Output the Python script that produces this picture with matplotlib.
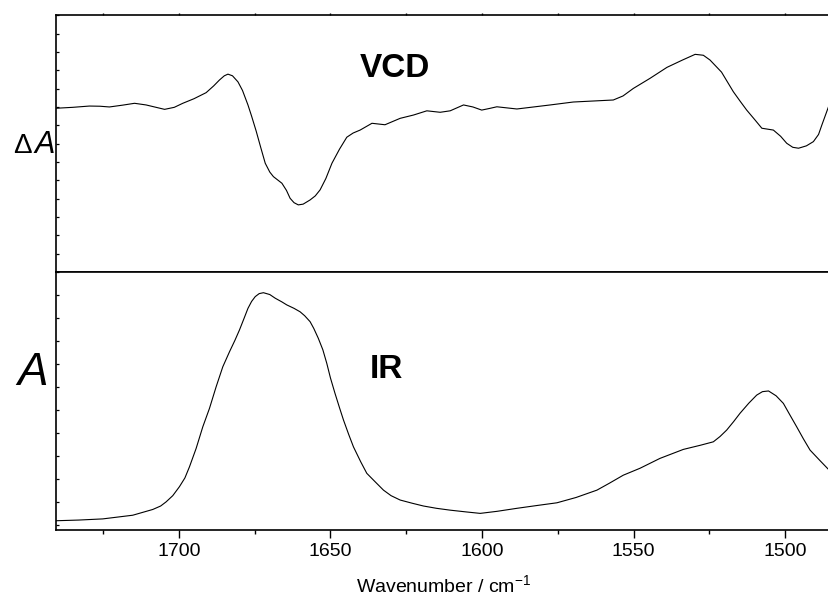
import matplotlib
matplotlib.use("Agg")
import matplotlib.pyplot as plt
from matplotlib.ticker import MultipleLocator

plt.rcParams['font.family'] = ['Liberation Sans', 'DejaVu Sans']
plt.rcParams['mathtext.fontset'] = 'custom'
plt.rcParams['mathtext.rm'] = 'Liberation Sans'
plt.rcParams['mathtext.it'] = 'Liberation Sans:italic'

# VCD spectrum (arbitrary units)
vcd_wn = [1740.5, 1735.0, 1729.5, 1726.0, 1722.9, 1718.5, 1714.6, 1710.8, 1707.5,
          1704.7, 1701.5, 1698.7, 1695.0, 1691.0, 1688.5, 1686.6, 1685.0, 1683.8,
          1682.3, 1680.5, 1679.0, 1677.2, 1676.0, 1674.5, 1673.0, 1671.5, 1670.0,
          1668.8, 1666.0, 1664.5, 1663.3, 1662.0, 1660.6, 1659.0, 1656.7, 1655.0,
          1653.4, 1651.5, 1649.5, 1647.0, 1644.6, 1642.5, 1640.2, 1636.3, 1632.0,
          1627.0, 1622.6, 1618.2, 1613.8, 1610.5, 1606.1, 1603.0, 1600.1, 1597.5,
          1595.1, 1588.5, 1577.5, 1569.9, 1556.7, 1553.5, 1550.1, 1544.6, 1539.0,
          1534.0, 1529.7, 1527.0, 1524.8, 1521.0, 1517.1, 1514.8, 1512.7, 1510.0,
          1507.7, 1503.9, 1501.5, 1499.5, 1497.5, 1495.6, 1493.0, 1490.7, 1489.0,
          1487.9, 1485.5]
vcd_val = [1.93, 1.98, 2.05, 2.04, 2.00, 2.10, 2.20, 2.11, 1.98,
           1.87, 1.98, 2.20, 2.45, 2.78, 3.15, 3.47, 3.70, 3.79,
           3.70, 3.37, 2.90, 2.11, 1.50, 0.69, -0.20, -1.07, -1.55,
           -1.80, -2.16, -2.55, -2.98, -3.22, -3.34, -3.30, -3.07, -2.85,
           -2.52, -1.90, -1.07, -0.30, 0.35, 0.58, 0.74, 1.11, 1.03,
           1.38, 1.56, 1.79, 1.71, 1.79, 2.11, 2.00, 1.83, 1.92,
           2.01, 1.89, 2.11, 2.27, 2.38, 2.60, 3.01, 3.56, 4.16,
           4.55, 4.87, 4.82, 4.56, 3.90, 2.83, 2.30, 1.83, 1.30,
           0.84, 0.74, 0.40, 0.02, -0.20, -0.25, -0.12, 0.11, 0.50,
           1.02, 2.11]

# IR absorbance (arbitrary units)
ir_wn = [1740.5, 1733.0, 1725.1, 1715.2, 1708.6, 1706.0, 1704.2, 1702.0, 1699.8,
         1698.0, 1696.5, 1694.3, 1692.1, 1689.9, 1687.7, 1685.5, 1683.3, 1681.5,
         1680.0, 1678.5, 1677.2, 1676.0, 1674.8, 1673.5, 1672.1, 1670.0, 1668.2,
         1666.0, 1664.4, 1662.0, 1660.0, 1658.5, 1656.7, 1655.5, 1654.0, 1652.5,
         1651.2, 1650.0, 1648.5, 1647.0, 1645.7, 1644.0, 1642.4, 1640.0, 1638.0,
         1635.0, 1632.5, 1630.0, 1627.0, 1623.0, 1619.3, 1615.0, 1610.5, 1605.0,
         1600.6, 1595.0, 1588.5, 1582.0, 1575.3, 1569.0, 1562.1, 1558.0, 1553.4,
         1547.9, 1541.3, 1533.6, 1528.0, 1523.7, 1521.5, 1519.3, 1517.0, 1514.9,
         1512.0, 1509.4, 1507.5, 1505.5, 1503.0, 1500.6, 1498.5, 1496.2, 1494.0,
         1491.8, 1488.5, 1485.5]
ir_val = [0.19, 0.22, 0.27, 0.43, 0.68, 0.83, 1.01, 1.28, 1.67,
          2.05, 2.53, 3.33, 4.27, 5.07, 6.01, 6.88, 7.53, 8.03,
          8.48, 8.98, 9.42, 9.72, 9.93, 10.06, 10.10, 10.02, 9.86,
          9.70, 9.57, 9.42, 9.27, 9.10, 8.84, 8.55, 8.12, 7.62,
          7.03, 6.40, 5.73, 5.10, 4.57, 3.95, 3.40, 2.75, 2.25,
          1.85, 1.52, 1.28, 1.09, 0.95, 0.83, 0.73, 0.65, 0.57,
          0.51, 0.60, 0.73, 0.85, 0.97, 1.20, 1.52, 1.82, 2.17,
          2.47, 2.90, 3.29, 3.47, 3.62, 3.85, 4.13, 4.50, 4.86,
          5.30, 5.65, 5.80, 5.83, 5.62, 5.29, 4.80, 4.27, 3.75,
          3.26, 2.80, 2.39]

xticks = [1700, 1650, 1600, 1550, 1500]

fig = plt.figure(figsize=(8.29, 5.97), dpi=100)
left, width = 0.0676, 0.9421
ax1 = fig.add_axes([left, 0.5444, width, 0.4300])
ax2 = fig.add_axes([left, 0.1127, width, 0.4317])

for ax in (ax1, ax2):
    ax.set_xlim(1740.5, 1482.9)
    ax.set_xticks(xticks)
    ax.xaxis.set_minor_locator(MultipleLocator(25))
    ax.yaxis.set_major_locator(MultipleLocator(1))
    ax.tick_params(axis='y', which='both', direction='in', length=2.2,
                   width=0.9, labelleft=False)
    for s in ax.spines.values():
        s.set_linewidth(1.2)

ax1.plot(vcd_wn, vcd_val, color='black', lw=0.8)
ax1.set_ylim(-7, 7)
ax1.tick_params(axis='x', which='major', direction='out', length=5.4, width=1.0,
                labelbottom=False)
ax1.tick_params(axis='x', which='minor', direction='out', length=3.2, width=1.0)
# tiny marks along the top edge
ax1.tick_params(axis='x', which='both', top=True)
for t in ax1.xaxis.get_major_ticks() + ax1.xaxis.get_minor_ticks():
    t.tick2line.set_markersize(1.2)
ax1.text(1640.2, 3.63, 'VCD', fontsize=24, fontweight='bold', ha='left', va='baseline')

ax2.plot(ir_wn, ir_val, color='black', lw=0.8)
ax2.set_ylim(-0.2, 11)
ax2.tick_params(axis='x', which='major', direction='out', length=5.4, width=1.0,
                labelsize=14, pad=4)
ax2.tick_params(axis='x', which='minor', direction='out', length=3.2, width=1.0)
ax2.text(1636.9, 6.39, 'IR', fontsize=24, fontweight='bold', ha='left', va='baseline')

# axis titles
fig.text(0.0386, 0.7437, '\u0394', fontsize=20, ha='right', va='baseline')
fig.text(0.0663, 0.7437, 'A', fontsize=22, fontstyle='italic', ha='right', va='baseline')
fig.text(0.0579, 0.3551, 'A', fontsize=33, fontstyle='italic', ha='right', va='baseline')
fig.text(0.5356, 0.0080, 'Wavenumber / cm$^{\\mathregular{-1}}$', fontsize=14,
         ha='center', va='baseline')

fig.savefig('out.png', dpi=100)
